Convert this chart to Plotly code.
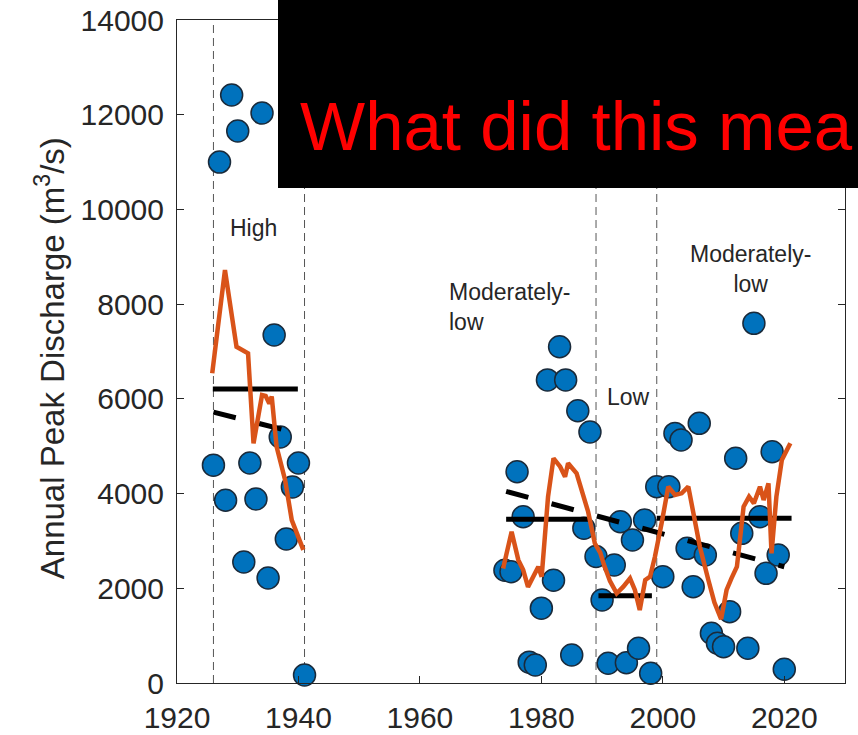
import plotly.graph_objects as go

# ---------------- data ----------------
years_early = list(range(1926, 1942))
peaks_early = [4600, 11000, 3860, 12415, 11655, 2555, 4645, 3885, 12035, 2217,
               7348, 5195, 3040, 4140, 4645, 170]

years_late = list(range(1974, 2021))
peaks_late = [2380, 2350, 4460, 3510, 440, 380, 1580, 6400, 2170, 7100,
              6400, 590, 5750, 3270, 5300, 2670,
              1753, 416, 2492, 3406, 429, 3020, 733, 3442, 205,
              4145, 2245, 4145, 5270, 5130, 2844, 2033, 5483, 2703, 1050,
              838, 767, 1506, 4745, 3160, 733, 7595, 3511, 2316, 4884, 2703, 290]

# moving-average curve (orange)
ma_years_early = [1925.8, 1927.9, 1929.8, 1931.7, 1932.6, 1934.0, 1934.6, 1935.2,
                  1935.6, 1936.4, 1937.8, 1938.9, 1940.8]
ma_vals_early = [6540, 8720, 7100, 6960, 5060, 6080, 6060, 5900, 6050, 4990,
                 4290, 3440, 2810]
ma_years_late = [1973.7, 1975.1, 1976.2, 1977.0, 1977.8, 1978.7, 1979.5, 1980.05,
                 1981.1, 1982.0, 1983.1, 1983.9, 1984.4, 1985.8, 1986.9, 1987.7,
                 1988.8, 1989.7, 1990.3, 1991.3, 1992.4, 1993.5, 1994.6, 1995.4,
                 1996.2, 1997.1, 1997.9, 1998.7, 1999.8, 2000.9, 2002.0, 2003.1,
                 2004.2, 2005.0, 2006.1, 2007.5, 2008.5, 2009.6, 2010.5, 2011.3,
                 2012.2, 2013.3, 2014.2, 2015.0, 2016.0, 2016.6, 2017.4, 2017.9,
                 2018.7, 2019.6, 2021.0]
ma_vals_late = [2420, 3195, 2600, 2390, 2030, 2245, 2456, 2245,
                3934, 4745, 4567, 4356, 4639, 4428, 3934, 3617,
                2950, 2750, 2500, 2150, 1894, 2033, 2210, 1964,
                1541, 2175, 2245, 2667, 3372, 4145, 3970, 4005,
                4145, 3583, 2878, 2175, 1700, 1350, 1964, 2210,
                2456, 3723, 3934, 3794, 4145, 3864, 4216, 2738,
                3934, 4709, 5061]

# regime means (solid black)
mean_start = [1925.9, 1974.2, 1989.4, 1999.0]
mean_end = [1939.9, 1988.0, 1998.2, 2021.2]
mean_value = [6210, 3460, 1840, 3480]

# linear trends (dashed black)
trend_start = [1926.0, 1974.2]
trend_end = [1940.0, 2020.0]
trend_start_val = [5720, 4045]
trend_end_val = [5270, 2455]

# regime boundaries (thin dashed verticals)
regime_bounds = [1926, 1941, 1989, 1999]

regime_labels = ["High", "Moderately-<br>low", "Low", "Moderately-<br>low"]
label_x = [1932.6, 1964.5, 1994.3, 2014.5]
label_y = [9600, 7950, 6040, 8750]
label_anchor = ["center", "left", "center", "center"]

x_ticks = [1920, 1940, 1960, 1980, 2000, 2020]
y_ticks = [0, 2000, 4000, 6000, 8000, 10000, 12000, 14000]

# ---------------- figure ----------------
fig = go.Figure()

for b in regime_bounds:
    fig.add_shape(type="line", xref="x", yref="paper", x0=b, x1=b, y0=0, y1=1,
                  line=dict(color="#555555", width=1, dash="8px,5px"), layer="below")

marker = dict(size=22, color="#0072BD", line=dict(color="#1a2a3a", width=1.5))
fig.add_trace(go.Scatter(x=years_early, y=peaks_early, mode="markers",
                         marker=marker, cliponaxis=False))
fig.add_trace(go.Scatter(x=years_late, y=peaks_late, mode="markers",
                         marker=marker, cliponaxis=False))

for x0, x1, v in zip(mean_start, mean_end, mean_value):
    fig.add_trace(go.Scatter(x=[x0, x1], y=[v, v], mode="lines",
                             line=dict(color="black", width=5)))

for x0, x1, v0, v1 in zip(trend_start, trend_end, trend_start_val, trend_end_val):
    fig.add_trace(go.Scatter(x=[x0, x1], y=[v0, v1], mode="lines",
                             line=dict(color="black", width=5, dash="23px,24px")))

fig.add_trace(go.Scatter(x=ma_years_early, y=ma_vals_early, mode="lines",
                         line=dict(color="#D95319", width=4.5)))
fig.add_trace(go.Scatter(x=ma_years_late, y=ma_vals_late, mode="lines",
                         line=dict(color="#D95319", width=4.5)))

for t, xx, yy, anc in zip(regime_labels, label_x, label_y, label_anchor):
    fig.add_annotation(x=xx, y=yy, xref="x", yref="y", text=t, showarrow=False,
                       xanchor=anc, align=anc,
                       font=dict(size=23, color="#262626"))

fig.add_annotation(x=-0.19, y=0.49, xref="paper", yref="paper",
                   text="Annual Peak Discharge (m<sup>3</sup>/s)", textangle=-90,
                   showarrow=False, xanchor="center", yanchor="middle",
                   font=dict(size=33, color="#262626"))

# black overlay box with red text
fig.add_shape(type="rect", xref="paper", yref="paper", x0=0.1512, x1=1.05,
              y0=0.7466, y1=1.06, fillcolor="black", line=dict(width=0), layer="above")
fig.add_annotation(x=0.181, y=0.84, xref="paper", yref="paper", text="What did this mea",
                   showarrow=False, xanchor="left", yanchor="middle",
                   font=dict(size=69, color="#ff0000", family="Liberation Sans, Arial"))

axis_common = dict(showline=True, linecolor="#262626", linewidth=1, mirror="ticks",
                   ticks="inside", ticklen=7, tickcolor="#262626", showgrid=False,
                   zeroline=False, automargin=False,
                   tickfont=dict(size=30, color="#262626"))
fig.update_xaxes(range=[1920, 2030], tickvals=x_ticks,
                 ticktext=[str(v) for v in x_ticks], ticklabelstandoff=8, **axis_common)
fig.update_yaxes(range=[0, 14000], tickvals=y_ticks,
                 ticktext=[str(v) for v in y_ticks], ticklabelstandoff=6, **axis_common)

fig.update_layout(width=858, height=735, margin=dict(l=177, r=13, t=20, b=52),
                  plot_bgcolor="white", paper_bgcolor="white", showlegend=False,
                  font=dict(family="Liberation Sans, Arial, sans-serif", color="#262626"))

fig.write_html("out.html")
